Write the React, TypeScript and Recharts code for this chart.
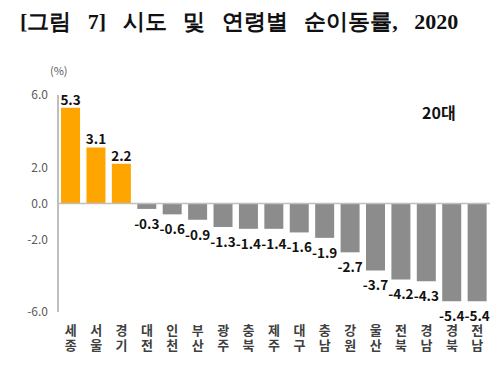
import React from 'react';
import { BarChart, Bar, XAxis, YAxis, Cell, LabelList, ReferenceLine } from 'recharts';

const regions = ['세종', '서울', '경기', '대전', '인천', '부산', '광주', '충북', '제주', '대구', '충남', '강원', '울산', '전북', '경남', '경북', '전남'];
const rates = [5.3, 3.1, 2.2, -0.3, -0.6, -0.9, -1.3, -1.4, -1.4, -1.6, -1.9, -2.7, -3.7, -4.2, -4.3, -5.4, -5.4];
const yTicks = [6, 2, 0, -2, -6];

const data = regions.map((r, i) => ({ region: r, rate: rates[i] }));

const ORANGE = '#FFA500';
const GRAY = '#8C8C8C';
const FONT = '"Noto Sans CJK KR", "Noto Sans", sans-serif';

const XTick = (props: any) => {
  const { x, y, payload } = props;
  const chars = String(payload.value).split('');
  return (
    <text x={x} y={y + 15} textAnchor="middle" fontSize={13} fontWeight={700} fill="#404040" fontFamily={FONT}>
      {chars.map((c: string, i: number) => (
        <tspan key={i} x={x} dy={i === 0 ? 0 : 15}>{c}</tspan>
      ))}
    </text>
  );
};

const ValueLabel = (props: any) => {
  const { x, y, width, height, value } = props;
  const cx = x + width / 2;
  const v = Number(value);
  let ty: number;
  if (v >= 0) {
    ty = Math.min(y, y + height) - 9;
  } else {
    ty = Math.max(y, y + height) + 14;
  }
  return (
    <text x={cx} y={ty} textAnchor="middle" dominantBaseline="central" fontSize={13.5}
      fontWeight={700} fill="#111" fontFamily={FONT}>{v.toFixed(1)}</text>
  );
};

export default function App() {
  return (
    <div style={{ position: 'absolute', left: 0, top: 0, width: 500, height: 374, background: '#fff' }}>
      <div style={{ position: 'absolute', left: 20, top: 7, fontFamily: 'serif', fontWeight: 700, fontSize: 22, wordSpacing: 11, whiteSpace: 'nowrap', color: '#111', lineHeight: '30px' }}>
        [그림 7] 시도 및 연령별 순이동률, 2020
      </div>
      <div style={{ position: 'absolute', left: 50, top: 62, fontFamily: FONT, fontSize: 11, color: '#595959' }}>(%)</div>
      <div style={{ position: 'absolute', left: 422, top: 100, fontFamily: FONT, fontSize: 16, fontWeight: 700, color: '#111' }}>20대</div>
      <div style={{ position: 'absolute', left: 0, top: 0 }}>
        <BarChart width={500} height={374} data={data} margin={{ top: 95, right: 10, bottom: 0, left: 0 }} barCategoryGap="12%">
          <XAxis dataKey="region" axisLine={false} tickLine={false} tick={<XTick />} interval={0} height={62} />
          <YAxis domain={[-6, 6]} ticks={yTicks} width={58} axisLine={{ stroke: '#BFBFBF', strokeWidth: 2 }} tickLine={false}
            tickMargin={4} tick={{ fill: '#595959', fontSize: 12, fontFamily: FONT }}
            tickFormatter={(v: number) => v.toFixed(1)} />
          <ReferenceLine y={0} stroke="#BFBFBF" strokeWidth={1.5} />
          <Bar dataKey="rate" isAnimationActive={false}>
            {data.map((d, i) => (
              <Cell key={i} fill={d.rate >= 0 ? ORANGE : GRAY} />
            ))}
            <LabelList dataKey="rate" content={<ValueLabel />} />
          </Bar>
        </BarChart>
      </div>
    </div>
  );
}
